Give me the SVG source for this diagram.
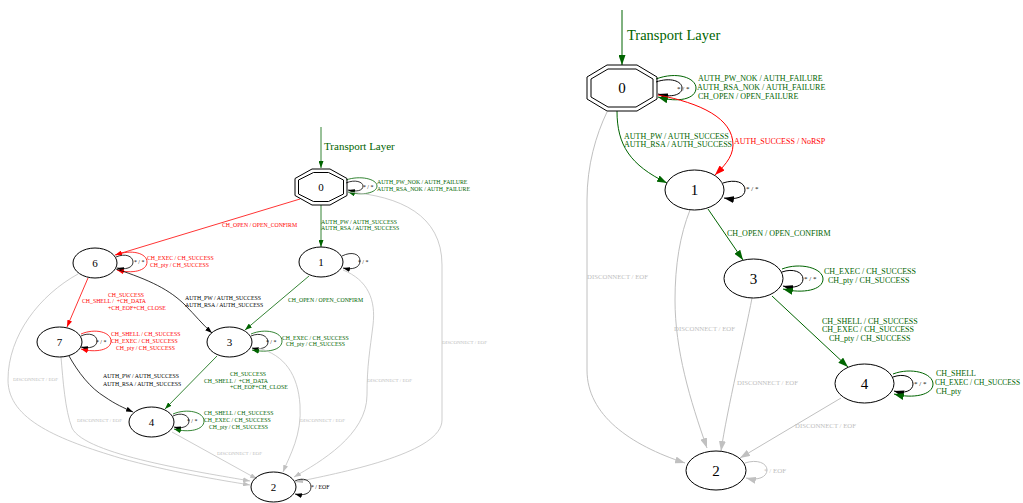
<svg xmlns="http://www.w3.org/2000/svg" width="1023" height="503" viewBox="0 0 1023 503">
<defs>
<style>
text{font-family:"Liberation Serif","Times New Roman",serif;white-space:pre}
.n{fill:none;stroke:#000;stroke-width:1}
.e{fill:none}
.L{stroke-width:0.8}
.R{stroke-width:1}
.g{stroke:#006400}.r{stroke:#ff0000}.k{stroke:#000}.s{stroke:#c0c0c0}
.tg{fill:#006400}.tr{fill:#ff0000}.tk{fill:#000}.ts{fill:#c0c0c0}
.l1{font-size:5.8px}.l2{font-size:8px}.gs1{font-size:5px}.gs2{font-size:6.8px}
.nl{font-size:11px;text-anchor:middle}.nr{font-size:15px;text-anchor:middle}
</style>
<marker id="mg" markerUnits="userSpaceOnUse" markerWidth="10" markerHeight="7" refX="10" refY="3.5" orient="auto"><path d="M0,0L10,3.5L0,7z" fill="#006400"/></marker>
<marker id="mr" markerUnits="userSpaceOnUse" markerWidth="10" markerHeight="7" refX="10" refY="3.5" orient="auto"><path d="M0,0L10,3.5L0,7z" fill="#ff0000"/></marker>
<marker id="mk" markerUnits="userSpaceOnUse" markerWidth="10" markerHeight="7" refX="10" refY="3.5" orient="auto"><path d="M0,0L10,3.5L0,7z" fill="#000"/></marker>
<marker id="ms" markerUnits="userSpaceOnUse" markerWidth="10" markerHeight="7" refX="10" refY="3.5" orient="auto"><path d="M0,0L10,3.5L0,7z" fill="#c0c0c0"/></marker>
<marker id="sg" markerUnits="userSpaceOnUse" markerWidth="7" markerHeight="5" refX="7" refY="2.5" orient="auto"><path d="M0,0L7,2.5L0,5z" fill="#006400"/></marker>
<marker id="sr" markerUnits="userSpaceOnUse" markerWidth="7" markerHeight="5" refX="7" refY="2.5" orient="auto"><path d="M0,0L7,2.5L0,5z" fill="#ff0000"/></marker>
<marker id="sk" markerUnits="userSpaceOnUse" markerWidth="7" markerHeight="5" refX="7" refY="2.5" orient="auto"><path d="M0,0L7,2.5L0,5z" fill="#000"/></marker>
<marker id="ss" markerUnits="userSpaceOnUse" markerWidth="7" markerHeight="5" refX="7" refY="2.5" orient="auto"><path d="M0,0L7,2.5L0,5z" fill="#c0c0c0"/></marker>
</defs>
<rect width="1023" height="503" fill="#fff"/>

<g id="connectors">
<!-- LEFT -->
<path class="e L g" d="M321,127L321,168" marker-end="url(#sg)"/>
<text class="tg" x="324" y="150" font-size="11">Transport Layer</text>
<path class="e L k" d="M346,183C355,179 363,182 363,186C363,191 356,192 348,190" marker-end="url(#sk)"/>
<path class="e L g" d="M346,180C360,175 377,179 377,186C377,193 362,196 348,192" marker-end="url(#sg)"/>
<text class="tk l1" x="363" y="189">* / *</text>
<text class="tg l1" x="377" y="184">AUTH_PW_NOK / AUTH_FAILURE</text>
<text class="tg l1" x="377" y="191">AUTH_RSA_NOK / AUTH_FAILURE</text>
<path class="e L r" d="M300,199L115,255" marker-end="url(#sr)"/>
<text class="tr l1" x="222" y="227">CH_OPEN / OPEN_CONFIRM</text>
<path class="e L g" d="M321,205L321,247" marker-end="url(#sg)"/>
<text class="tg l1" x="321" y="224">AUTH_PW / AUTH_SUCCESS</text>
<text class="tg l1" x="321" y="230">AUTH_RSA / AUTH_SUCCESS</text>
<path class="e L s" d="M348,192C400,196 442,215 442,265L442,420C442,452 350,471 296,482" marker-end="url(#ss)"/>
<text class="ts gs1" x="442" y="344">DISCONNECT / EOF</text>
<path class="e L k" d="M342,256C352,251 360,254 360,261C360,268 352,270 343,268" marker-end="url(#sk)"/>
<text class="tk l1" x="358" y="264">* / *</text>
<path class="e L g" d="M309,276L245,330" marker-end="url(#sg)"/>
<text class="tg l1" x="288" y="302">CH_OPEN / OPEN_CONFIRM</text>
<path class="e L s" d="M343,270C368,280 376,300 373,325C370,350 367,365 367,395C367,435 320,462 294,477" marker-end="url(#ss)"/>
<text class="ts gs1" x="367" y="382">DISCONNECT / EOF</text>
<path class="e L k" d="M116,257C125,253 133,256 133,262C133,268 125,270 117,268" marker-end="url(#sk)"/>
<path class="e L r" d="M116,255C131,249 147,253 147,262C147,271 132,274 117,270" marker-end="url(#sr)"/>
<text class="tk l1" x="134" y="264">* / *</text>
<text class="tr l1" x="147" y="260">CH_EXEC / CH_SUCCESS</text>
<text class="tr l1" x="150" y="267">CH_pty / CH_SUCCESS</text>
<path class="e L r" d="M88,278L67,327" marker-end="url(#sr)"/>
<text class="tr l1" x="108" y="297">CH_SUCCESS</text>
<text class="tr l1" x="82" y="303">CH_SHELL /  +CH_DATA</text>
<text class="tr l1" x="108" y="310">+CH_EOF+CH_CLOSE</text>
<path class="e L k" d="M116,269C150,280 170,290 185,305C195,315 203,325 212,333" marker-end="url(#sk)"/>
<text class="tk l1" x="185" y="300">AUTH_PW / AUTH_SUCCESS</text>
<text class="tk l1" x="185" y="307">AUTH_RSA / AUTH_SUCCESS</text>
<path class="e L s" d="M78,274C40,295 8,335 8,380C8,420 60,440 120,458C170,472 220,480 250,485" marker-end="url(#ss)"/>
<text class="ts gs1" x="13" y="381">DISCONNECT / EOF</text>
<path class="e L k" d="M81,336C89,332 97,335 97,341C97,347 89,349 81,347" marker-end="url(#sk)"/>
<path class="e L r" d="M81,334C95,328 111,332 111,341C111,350 96,353 81,349" marker-end="url(#sr)"/>
<text class="tk l1" x="96" y="344">* / *</text>
<text class="tr l1" x="111" y="336">CH_SHELL / CH_SUCCESS</text>
<text class="tr l1" x="111" y="343">CH_EXEC / CH_SUCCESS</text>
<text class="tr l1" x="116" y="350">CH_pty / CH_SUCCESS</text>
<path class="e L k" d="M69,356C78,372 90,388 105,397C115,404 124,408 133,412" marker-end="url(#sk)"/>
<text class="tk l1" x="103" y="378">AUTH_PW / AUTH_SUCCESS</text>
<text class="tk l1" x="103" y="386">AUTH_RSA / AUTH_SUCCESS</text>
<path class="e L s" d="M61,357C63,380 65,410 72,428C85,455 200,472 250,481" marker-end="url(#ss)"/>
<text class="ts gs1" x="77" y="422">DISCONNECT / EOF</text>
<path class="e L k" d="M251,336C260,332 268,336 268,342C268,348 260,350 252,348" marker-end="url(#sk)"/>
<path class="e L g" d="M251,334C265,328 282,332 282,341C282,350 268,353 252,350" marker-end="url(#sg)"/>
<text class="tk l1" x="266" y="344">* / *</text>
<text class="tg l1" x="282" y="340">CH_EXEC / CH_SUCCESS</text>
<text class="tg l1" x="286" y="346">CH_pty / CH_SUCCESS</text>
<path class="e L g" d="M217,356L165,409" marker-end="url(#sg)"/>
<text class="tg l1" x="230" y="376">CH_SUCCESS</text>
<text class="tg l1" x="204" y="383">CH_SHELL /  +CH_DATA</text>
<text class="tg l1" x="230" y="389">+CH_EOF+CH_CLOSE</text>
<path class="e L s" d="M258,348C285,355 298,375 300,405C302,435 290,455 283,472" marker-end="url(#ss)"/>
<text class="ts gs1" x="300" y="422">DISCONNECT / EOF</text>
<path class="e L k" d="M173,416C181,412 189,415 189,421C189,427 181,429 174,427" marker-end="url(#sk)"/>
<path class="e L g" d="M173,414C187,408 204,412 204,421C204,430 189,433 174,429" marker-end="url(#sg)"/>
<text class="tk l1" x="187" y="423">* / *</text>
<text class="tg l1" x="204" y="415">CH_SHELL / CH_SUCCESS</text>
<text class="tg l1" x="204" y="422">CH_EXEC / CH_SUCCESS</text>
<text class="tg l1" x="209" y="429">CH_pty / CH_SUCCESS</text>
<path class="e L s" d="M172,432L257,479" marker-end="url(#ss)"/>
<text class="ts gs1" x="217" y="455">DISCONNECT / EOF</text>
<path class="e L k" d="M295,481C303,477 311,480 311,487C311,494 303,496 295,494" marker-end="url(#sk)"/>
<text class="tk l1" x="311" y="489">* / EOF</text>

<!-- RIGHT -->
<path class="e R g" d="M622,10L622,65" marker-end="url(#mg)"/>
<text class="tg" x="627" y="40" font-size="14.5">Transport Layer</text>
<path class="e R k" d="M656,82C670,77 682,81 682,88C682,95 671,98 658,94" marker-end="url(#mk)"/>
<path class="e R g" d="M656,79C677,71 696,78 696,88C696,99 678,103 658,97" marker-end="url(#mg)"/>
<text class="tk" x="677" y="91" font-size="7">* / *</text>
<text class="tg l2" x="698" y="81">AUTH_PW_NOK / AUTH_FAILURE</text>
<text class="tg l2" x="697" y="90">AUTH_RSA_NOK / AUTH_FAILURE</text>
<text class="tg l2" x="698" y="99">CH_OPEN / OPEN_FAILURE</text>
<path class="e R g" d="M617,111C617,145 630,165 667,183" marker-end="url(#mg)"/>
<text class="tg l2" x="624" y="139">AUTH_PW / AUTH_SUCCESS</text>
<text class="tg l2" x="624" y="147">AUTH_RSA / AUTH_SUCCESS</text>
<path class="e R r" d="M658,95C700,103 733,118 733,145C733,158 722,168 715,175" marker-end="url(#mr)"/>
<text class="tr l2" x="734" y="144">AUTH_SUCCESS / NoRSP</text>
<path class="e R s" d="M607,112C596,135 587,165 587,200L587,370C587,415 630,445 685,463" marker-end="url(#ms)"/>
<text class="ts gs2" x="587" y="279">DISCONNECT / EOF</text>
<path class="e R k" d="M723,183C735,179 745,182 745,190C745,197 736,200 724,198" marker-end="url(#mk)"/>
<text class="tk" x="746" y="191" font-size="7">* / *</text>
<path class="e R g" d="M708,209L743,260" marker-end="url(#mg)"/>
<text class="tg l2" x="727" y="236">CH_OPEN / OPEN_CONFIRM</text>
<path class="e R s" d="M690,210C680,235 675,265 675,300C675,350 690,400 707,448" marker-end="url(#ms)"/>
<text class="ts gs2" x="674" y="331">DISCONNECT / EOF</text>
<path class="e R k" d="M782,272C793,268 803,272 803,279C803,286 794,289 783,286" marker-end="url(#mk)"/>
<path class="e R g" d="M782,269C800,262 823,268 823,279C823,290 803,294 783,289" marker-end="url(#mg)"/>
<text class="tk" x="804" y="281" font-size="7">* / *</text>
<text class="tg l2" x="824" y="274">CH_EXEC / CH_SUCCESS</text>
<text class="tg l2" x="828" y="283">CH_pty / CH_SUCCESS</text>
<path class="e R g" d="M772,296L848,367" marker-end="url(#mg)"/>
<text class="tg l2" x="822" y="324">CH_SHELL / CH_SUCCESS</text>
<text class="tg l2" x="822" y="332">CH_EXEC / CH_SUCCESS</text>
<text class="tg l2" x="829" y="341">CH_pty / CH_SUCCESS</text>
<path class="e R s" d="M752,298C745,335 727,410 721,451" marker-end="url(#ms)"/>
<text class="ts gs2" x="737" y="385">DISCONNECT / EOF</text>
<path class="e R k" d="M893,377C904,373 913,377 913,384C913,391 904,394 894,391" marker-end="url(#mk)"/>
<path class="e R g" d="M893,374C911,367 933,373 933,384C933,395 913,399 894,394" marker-end="url(#mg)"/>
<text class="tk" x="914" y="386" font-size="7">* / *</text>
<text class="tg l2" x="936" y="376">CH_SHELL</text>
<text class="tg" x="935" y="385" font-size="7.4">CH_EXEC / CH_SUCCESS</text>
<text class="tg l2" x="936" y="394">CH_pty</text>
<path class="e R s" d="M841,398L740,458" marker-end="url(#ms)"/>
<text class="ts gs2" x="795" y="428">DISCONNECT / EOF</text>
<path class="e R s" d="M745,463C757,459 767,463 767,470C767,477 758,481 746,478" marker-end="url(#ms)"/>
<text class="ts" x="764" y="473" font-size="7">* / EOF</text>
</g>

<g id="L0"><polygon class="n" points="347,178.5 330,169 312,169 295,178.5 295,195.5 312,205 330,205 347,195.5"/><polygon class="n" points="343.5,180 328.5,172.5 313.5,172.5 298.5,180 298.5,194 313.5,201.5 328.5,201.5 343.5,194"/><text class="nl" x="321" y="191">0</text></g>
<g id="L1"><ellipse class="n" cx="321" cy="262" rx="22" ry="15"/><text class="nl" x="321" y="266">1</text></g>
<g id="L6"><ellipse class="n" cx="95" cy="263" rx="22" ry="15"/><text class="nl" x="95" y="267">6</text></g>
<g id="L3"><ellipse class="n" cx="229.5" cy="342" rx="22.5" ry="15"/><text class="nl" x="229.5" y="346">3</text></g>
<g id="L7"><ellipse class="n" cx="59.5" cy="342" rx="22.5" ry="15"/><text class="nl" x="59.5" y="346">7</text></g>
<g id="L4"><ellipse class="n" cx="151.5" cy="422" rx="22.5" ry="15"/><text class="nl" x="151.5" y="426">4</text></g>
<g id="L2"><ellipse class="n" cx="273.5" cy="487" rx="22.5" ry="15"/><text class="nl" x="273.5" y="491">2</text></g>

<g id="R0"><polygon class="n" points="657,77 637,65 607,65 587,77 587,99 607,111 637,111 657,99"/><polygon class="n" points="653,79 636,69 608,69 591,79 591,97 608,107 636,107 653,97"/><text class="nr" x="622" y="93">0</text></g>
<g id="R1"><ellipse class="n" cx="694.5" cy="190" rx="29.5" ry="20"/><text class="nr" x="694.5" y="195">1</text></g>
<g id="R3"><ellipse class="n" cx="753.5" cy="278.5" rx="29.5" ry="19.5"/><text class="nr" x="753.5" y="283.5">3</text></g>
<g id="R4"><ellipse class="n" cx="864.5" cy="383.5" rx="29.5" ry="19.5"/><text class="nr" x="864.5" y="388.5">4</text></g>
<g id="R2"><ellipse class="n" cx="716" cy="470.5" rx="30" ry="19.5"/><text class="nr" x="716" y="475.5">2</text></g>
</svg>
